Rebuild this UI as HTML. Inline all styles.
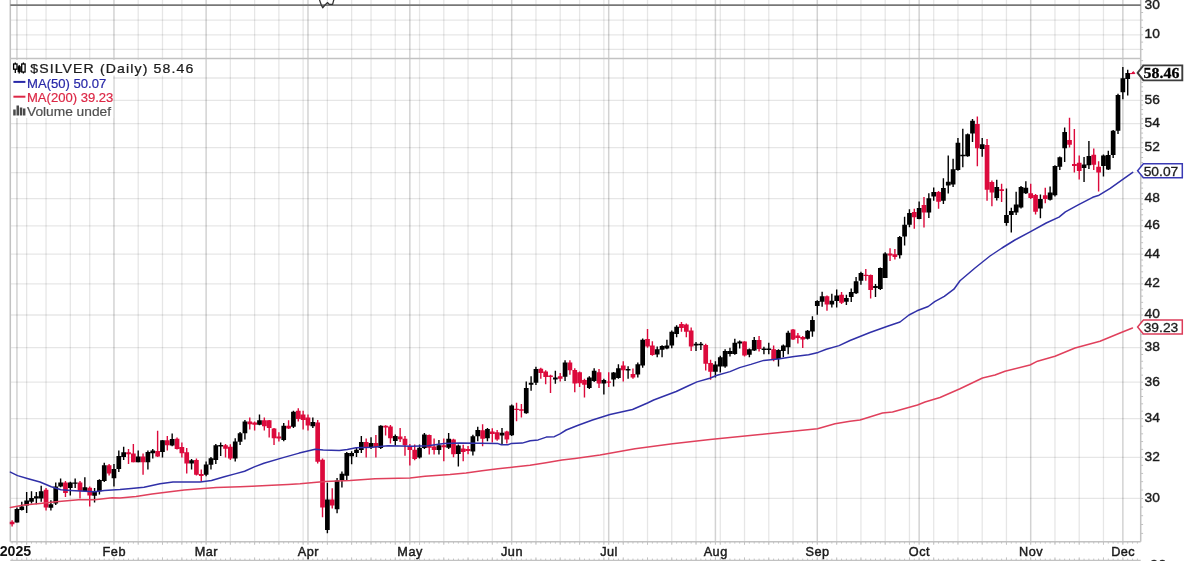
<!DOCTYPE html><html><head><meta charset="utf-8"><style>html,body{margin:0;padding:0;background:#fff;width:1200px;height:561px;overflow:hidden}</style></head><body><svg width="1200" height="561" viewBox="0 0 1200 561" style="position:absolute;left:0;top:0;filter:blur(0.5px);font-family:'Liberation Sans',sans-serif">
<rect width="1200" height="561" fill="#fff"/>
<path d="M26.65 0V541.7M46.05 0V541.7M70.31 0V541.7M89.71 0V541.7M138.21 0V541.7M162.47 0V541.7M181.87 0V541.7M230.37 0V541.7M254.62 0V541.7M278.88 0V541.7M303.13 0V541.7M327.38 0V541.7M351.64 0V541.7M371.04 0V541.7M395.29 0V541.7M419.54 0V541.7M443.79 0V541.7M468.05 0V541.7M492.30 0V541.7M535.95 0V541.7M560.21 0V541.7M579.61 0V541.7M603.86 0V541.7M623.26 0V541.7M647.52 0V541.7M671.77 0V541.7M696.02 0V541.7M720.27 0V541.7M744.53 0V541.7M768.78 0V541.7M793.03 0V541.7M836.69 0V541.7M860.94 0V541.7M885.19 0V541.7M909.44 0V541.7M933.70 0V541.7M957.95 0V541.7M982.20 0V541.7M1006.45 0V541.7M1054.96 0V541.7M1079.21 0V541.7M1103.46 0V541.7" stroke="rgba(0,0,0,0.098)" stroke-width="1.3" fill="none"/>
<path d="M16.95 0V541.7M113.96 0V541.7M206.12 0V541.7M307.98 0V541.7M409.84 0V541.7M511.70 0V541.7M608.71 0V541.7M715.42 0V541.7M817.28 0V541.7M919.14 0V541.7M1030.70 0V541.7M1122.86 0V541.7" stroke="rgba(0,0,0,0.175)" stroke-width="1.5" fill="none"/>
<path d="M10.3 498.46H1140.7M10.3 457.30H1140.7M10.3 418.63H1140.7M10.3 382.18H1140.7M10.3 347.69H1140.7M10.3 314.98H1140.7M10.3 283.86H1140.7M10.3 254.19H1140.7M10.3 225.84H1140.7M10.3 198.69H1140.7M10.3 172.66H1140.7M10.3 147.64H1140.7M10.3 123.57H1140.7M10.3 100.37H1140.7M10.3 77.99H1140.7M10.3 20.1H1140.7M10.3 34.8H1140.7M10.3 49.4H1140.7" stroke="rgba(0,0,0,0.098)" stroke-width="1.3" fill="none"/>
<path d="M10.3 0V541.7M1140.7 0V541.7M10.3 58.6H1140.7M10.3 541.7H1140.7" stroke="#c2c2c2" stroke-width="1.5" fill="none"/>
<path d="M10.3 560.6H1140.7" stroke="#c2c2c2" stroke-width="1.5" fill="none"/>
<path d="M10.3 5.1H1140.7" stroke="#777" stroke-width="1.6" fill="none"/>
<path d="M319.2 -1L321.3 5.0L322.7 7.8L324.5 5.5L327.4 2.6L329.4 4.4L332.6 4.4L334 -1" stroke="#333" stroke-width="1.3" fill="none" stroke-linejoin="round"/>
<path d="M12.10 541.7v1.9M12.10 558.6v1.9M16.95 541.7v1.9M16.95 558.6v1.9M21.80 541.7v1.9M21.80 558.6v1.9M26.65 541.7v1.9M26.65 558.6v1.9M31.50 541.7v1.9M31.50 558.6v1.9M36.35 541.7v1.9M36.35 558.6v1.9M41.20 541.7v1.9M41.20 558.6v1.9M46.05 541.7v1.9M46.05 558.6v1.9M50.90 541.7v1.9M50.90 558.6v1.9M55.75 541.7v1.9M55.75 558.6v1.9M60.61 541.7v1.9M60.61 558.6v1.9M65.46 541.7v1.9M65.46 558.6v1.9M70.31 541.7v1.9M70.31 558.6v1.9M75.16 541.7v1.9M75.16 558.6v1.9M80.01 541.7v1.9M80.01 558.6v1.9M84.86 541.7v1.9M84.86 558.6v1.9M89.71 541.7v1.9M89.71 558.6v1.9M94.56 541.7v1.9M94.56 558.6v1.9M99.41 541.7v1.9M99.41 558.6v1.9M104.26 541.7v1.9M104.26 558.6v1.9M109.11 541.7v1.9M109.11 558.6v1.9M113.96 541.7v1.9M113.96 558.6v1.9M118.81 541.7v1.9M118.81 558.6v1.9M123.66 541.7v1.9M123.66 558.6v1.9M128.51 541.7v1.9M128.51 558.6v1.9M133.36 541.7v1.9M133.36 558.6v1.9M138.21 541.7v1.9M138.21 558.6v1.9M143.06 541.7v1.9M143.06 558.6v1.9M147.91 541.7v1.9M147.91 558.6v1.9M152.76 541.7v1.9M152.76 558.6v1.9M157.62 541.7v1.9M157.62 558.6v1.9M162.47 541.7v1.9M162.47 558.6v1.9M167.32 541.7v1.9M167.32 558.6v1.9M172.17 541.7v1.9M172.17 558.6v1.9M177.02 541.7v1.9M177.02 558.6v1.9M181.87 541.7v1.9M181.87 558.6v1.9M186.72 541.7v1.9M186.72 558.6v1.9M191.57 541.7v1.9M191.57 558.6v1.9M196.42 541.7v1.9M196.42 558.6v1.9M201.27 541.7v1.9M201.27 558.6v1.9M206.12 541.7v1.9M206.12 558.6v1.9M210.97 541.7v1.9M210.97 558.6v1.9M215.82 541.7v1.9M215.82 558.6v1.9M220.67 541.7v1.9M220.67 558.6v1.9M225.52 541.7v1.9M225.52 558.6v1.9M230.37 541.7v1.9M230.37 558.6v1.9M235.22 541.7v1.9M235.22 558.6v1.9M240.07 541.7v1.9M240.07 558.6v1.9M244.92 541.7v1.9M244.92 558.6v1.9M249.77 541.7v1.9M249.77 558.6v1.9M254.62 541.7v1.9M254.62 558.6v1.9M259.48 541.7v1.9M259.48 558.6v1.9M264.33 541.7v1.9M264.33 558.6v1.9M269.18 541.7v1.9M269.18 558.6v1.9M274.03 541.7v1.9M274.03 558.6v1.9M278.88 541.7v1.9M278.88 558.6v1.9M283.73 541.7v1.9M283.73 558.6v1.9M288.58 541.7v1.9M288.58 558.6v1.9M293.43 541.7v1.9M293.43 558.6v1.9M298.28 541.7v1.9M298.28 558.6v1.9M303.13 541.7v1.9M303.13 558.6v1.9M307.98 541.7v1.9M307.98 558.6v1.9M312.83 541.7v1.9M312.83 558.6v1.9M317.68 541.7v1.9M317.68 558.6v1.9M322.53 541.7v1.9M322.53 558.6v1.9M327.38 541.7v1.9M327.38 558.6v1.9M332.23 541.7v1.9M332.23 558.6v1.9M337.08 541.7v1.9M337.08 558.6v1.9M341.93 541.7v1.9M341.93 558.6v1.9M346.78 541.7v1.9M346.78 558.6v1.9M351.64 541.7v1.9M351.64 558.6v1.9M356.49 541.7v1.9M356.49 558.6v1.9M361.34 541.7v1.9M361.34 558.6v1.9M366.19 541.7v1.9M366.19 558.6v1.9M371.04 541.7v1.9M371.04 558.6v1.9M375.89 541.7v1.9M375.89 558.6v1.9M380.74 541.7v1.9M380.74 558.6v1.9M385.59 541.7v1.9M385.59 558.6v1.9M390.44 541.7v1.9M390.44 558.6v1.9M395.29 541.7v1.9M395.29 558.6v1.9M400.14 541.7v1.9M400.14 558.6v1.9M404.99 541.7v1.9M404.99 558.6v1.9M409.84 541.7v1.9M409.84 558.6v1.9M414.69 541.7v1.9M414.69 558.6v1.9M419.54 541.7v1.9M419.54 558.6v1.9M424.39 541.7v1.9M424.39 558.6v1.9M429.24 541.7v1.9M429.24 558.6v1.9M434.09 541.7v1.9M434.09 558.6v1.9M438.94 541.7v1.9M438.94 558.6v1.9M443.79 541.7v1.9M443.79 558.6v1.9M448.65 541.7v1.9M448.65 558.6v1.9M453.50 541.7v1.9M453.50 558.6v1.9M458.35 541.7v1.9M458.35 558.6v1.9M463.20 541.7v1.9M463.20 558.6v1.9M468.05 541.7v1.9M468.05 558.6v1.9M472.90 541.7v1.9M472.90 558.6v1.9M477.75 541.7v1.9M477.75 558.6v1.9M482.60 541.7v1.9M482.60 558.6v1.9M487.45 541.7v1.9M487.45 558.6v1.9M492.30 541.7v1.9M492.30 558.6v1.9M497.15 541.7v1.9M497.15 558.6v1.9M502.00 541.7v1.9M502.00 558.6v1.9M506.85 541.7v1.9M506.85 558.6v1.9M511.70 541.7v1.9M511.70 558.6v1.9M516.55 541.7v1.9M516.55 558.6v1.9M521.40 541.7v1.9M521.40 558.6v1.9M526.25 541.7v1.9M526.25 558.6v1.9M531.10 541.7v1.9M531.10 558.6v1.9M535.95 541.7v1.9M535.95 558.6v1.9M540.80 541.7v1.9M540.80 558.6v1.9M545.66 541.7v1.9M545.66 558.6v1.9M550.51 541.7v1.9M550.51 558.6v1.9M555.36 541.7v1.9M555.36 558.6v1.9M560.21 541.7v1.9M560.21 558.6v1.9M565.06 541.7v1.9M565.06 558.6v1.9M569.91 541.7v1.9M569.91 558.6v1.9M574.76 541.7v1.9M574.76 558.6v1.9M579.61 541.7v1.9M579.61 558.6v1.9M584.46 541.7v1.9M584.46 558.6v1.9M589.31 541.7v1.9M589.31 558.6v1.9M594.16 541.7v1.9M594.16 558.6v1.9M599.01 541.7v1.9M599.01 558.6v1.9M603.86 541.7v1.9M603.86 558.6v1.9M608.71 541.7v1.9M608.71 558.6v1.9M613.56 541.7v1.9M613.56 558.6v1.9M618.41 541.7v1.9M618.41 558.6v1.9M623.26 541.7v1.9M623.26 558.6v1.9M628.11 541.7v1.9M628.11 558.6v1.9M632.96 541.7v1.9M632.96 558.6v1.9M637.81 541.7v1.9M637.81 558.6v1.9M642.67 541.7v1.9M642.67 558.6v1.9M647.52 541.7v1.9M647.52 558.6v1.9M652.37 541.7v1.9M652.37 558.6v1.9M657.22 541.7v1.9M657.22 558.6v1.9M662.07 541.7v1.9M662.07 558.6v1.9M666.92 541.7v1.9M666.92 558.6v1.9M671.77 541.7v1.9M671.77 558.6v1.9M676.62 541.7v1.9M676.62 558.6v1.9M681.47 541.7v1.9M681.47 558.6v1.9M686.32 541.7v1.9M686.32 558.6v1.9M691.17 541.7v1.9M691.17 558.6v1.9M696.02 541.7v1.9M696.02 558.6v1.9M700.87 541.7v1.9M700.87 558.6v1.9M705.72 541.7v1.9M705.72 558.6v1.9M710.57 541.7v1.9M710.57 558.6v1.9M715.42 541.7v1.9M715.42 558.6v1.9M720.27 541.7v1.9M720.27 558.6v1.9M725.12 541.7v1.9M725.12 558.6v1.9M729.97 541.7v1.9M729.97 558.6v1.9M734.82 541.7v1.9M734.82 558.6v1.9M739.68 541.7v1.9M739.68 558.6v1.9M744.53 541.7v1.9M744.53 558.6v1.9M749.38 541.7v1.9M749.38 558.6v1.9M754.23 541.7v1.9M754.23 558.6v1.9M759.08 541.7v1.9M759.08 558.6v1.9M763.93 541.7v1.9M763.93 558.6v1.9M768.78 541.7v1.9M768.78 558.6v1.9M773.63 541.7v1.9M773.63 558.6v1.9M778.48 541.7v1.9M778.48 558.6v1.9M783.33 541.7v1.9M783.33 558.6v1.9M788.18 541.7v1.9M788.18 558.6v1.9M793.03 541.7v1.9M793.03 558.6v1.9M797.88 541.7v1.9M797.88 558.6v1.9M802.73 541.7v1.9M802.73 558.6v1.9M807.58 541.7v1.9M807.58 558.6v1.9M812.43 541.7v1.9M812.43 558.6v1.9M817.28 541.7v1.9M817.28 558.6v1.9M822.13 541.7v1.9M822.13 558.6v1.9M826.98 541.7v1.9M826.98 558.6v1.9M831.83 541.7v1.9M831.83 558.6v1.9M836.69 541.7v1.9M836.69 558.6v1.9M841.54 541.7v1.9M841.54 558.6v1.9M846.39 541.7v1.9M846.39 558.6v1.9M851.24 541.7v1.9M851.24 558.6v1.9M856.09 541.7v1.9M856.09 558.6v1.9M860.94 541.7v1.9M860.94 558.6v1.9M865.79 541.7v1.9M865.79 558.6v1.9M870.64 541.7v1.9M870.64 558.6v1.9M875.49 541.7v1.9M875.49 558.6v1.9M880.34 541.7v1.9M880.34 558.6v1.9M885.19 541.7v1.9M885.19 558.6v1.9M890.04 541.7v1.9M890.04 558.6v1.9M894.89 541.7v1.9M894.89 558.6v1.9M899.74 541.7v1.9M899.74 558.6v1.9M904.59 541.7v1.9M904.59 558.6v1.9M909.44 541.7v1.9M909.44 558.6v1.9M914.29 541.7v1.9M914.29 558.6v1.9M919.14 541.7v1.9M919.14 558.6v1.9M923.99 541.7v1.9M923.99 558.6v1.9M928.84 541.7v1.9M928.84 558.6v1.9M933.70 541.7v1.9M933.70 558.6v1.9M938.55 541.7v1.9M938.55 558.6v1.9M943.40 541.7v1.9M943.40 558.6v1.9M948.25 541.7v1.9M948.25 558.6v1.9M953.10 541.7v1.9M953.10 558.6v1.9M957.95 541.7v1.9M957.95 558.6v1.9M962.80 541.7v1.9M962.80 558.6v1.9M967.65 541.7v1.9M967.65 558.6v1.9M972.50 541.7v1.9M972.50 558.6v1.9M977.35 541.7v1.9M977.35 558.6v1.9M982.20 541.7v1.9M982.20 558.6v1.9M987.05 541.7v1.9M987.05 558.6v1.9M991.90 541.7v1.9M991.90 558.6v1.9M996.75 541.7v1.9M996.75 558.6v1.9M1001.60 541.7v1.9M1001.60 558.6v1.9M1006.45 541.7v1.9M1006.45 558.6v1.9M1011.30 541.7v1.9M1011.30 558.6v1.9M1016.15 541.7v1.9M1016.15 558.6v1.9M1021.00 541.7v1.9M1021.00 558.6v1.9M1025.85 541.7v1.9M1025.85 558.6v1.9M1030.70 541.7v1.9M1030.70 558.6v1.9M1035.56 541.7v1.9M1035.56 558.6v1.9M1040.41 541.7v1.9M1040.41 558.6v1.9M1045.26 541.7v1.9M1045.26 558.6v1.9M1050.11 541.7v1.9M1050.11 558.6v1.9M1054.96 541.7v1.9M1054.96 558.6v1.9M1059.81 541.7v1.9M1059.81 558.6v1.9M1064.66 541.7v1.9M1064.66 558.6v1.9M1069.51 541.7v1.9M1069.51 558.6v1.9M1074.36 541.7v1.9M1074.36 558.6v1.9M1079.21 541.7v1.9M1079.21 558.6v1.9M1084.06 541.7v1.9M1084.06 558.6v1.9M1088.91 541.7v1.9M1088.91 558.6v1.9M1093.76 541.7v1.9M1093.76 558.6v1.9M1098.61 541.7v1.9M1098.61 558.6v1.9M1103.46 541.7v1.9M1103.46 558.6v1.9M1108.31 541.7v1.9M1108.31 558.6v1.9M1113.16 541.7v1.9M1113.16 558.6v1.9M1118.01 541.7v1.9M1118.01 558.6v1.9M1122.86 541.7v1.9M1122.86 558.6v1.9M1127.71 541.7v1.9M1127.71 558.6v1.9M1132.57 541.7v1.9M1132.57 558.6v1.9M1137.42 541.7v1.9M1137.42 558.6v1.9M26.65 541.7v3.1M26.65 557.4v3.1M46.05 541.7v3.1M46.05 557.4v3.1M70.31 541.7v3.1M70.31 557.4v3.1M89.71 541.7v3.1M89.71 557.4v3.1M138.21 541.7v3.1M138.21 557.4v3.1M162.47 541.7v3.1M162.47 557.4v3.1M181.87 541.7v3.1M181.87 557.4v3.1M230.37 541.7v3.1M230.37 557.4v3.1M254.62 541.7v3.1M254.62 557.4v3.1M278.88 541.7v3.1M278.88 557.4v3.1M303.13 541.7v3.1M303.13 557.4v3.1M327.38 541.7v3.1M327.38 557.4v3.1M351.64 541.7v3.1M351.64 557.4v3.1M371.04 541.7v3.1M371.04 557.4v3.1M395.29 541.7v3.1M395.29 557.4v3.1M419.54 541.7v3.1M419.54 557.4v3.1M443.79 541.7v3.1M443.79 557.4v3.1M468.05 541.7v3.1M468.05 557.4v3.1M492.30 541.7v3.1M492.30 557.4v3.1M535.95 541.7v3.1M535.95 557.4v3.1M560.21 541.7v3.1M560.21 557.4v3.1M579.61 541.7v3.1M579.61 557.4v3.1M603.86 541.7v3.1M603.86 557.4v3.1M623.26 541.7v3.1M623.26 557.4v3.1M647.52 541.7v3.1M647.52 557.4v3.1M671.77 541.7v3.1M671.77 557.4v3.1M696.02 541.7v3.1M696.02 557.4v3.1M720.27 541.7v3.1M720.27 557.4v3.1M744.53 541.7v3.1M744.53 557.4v3.1M768.78 541.7v3.1M768.78 557.4v3.1M793.03 541.7v3.1M793.03 557.4v3.1M836.69 541.7v3.1M836.69 557.4v3.1M860.94 541.7v3.1M860.94 557.4v3.1M885.19 541.7v3.1M885.19 557.4v3.1M909.44 541.7v3.1M909.44 557.4v3.1M933.70 541.7v3.1M933.70 557.4v3.1M957.95 541.7v3.1M957.95 557.4v3.1M982.20 541.7v3.1M982.20 557.4v3.1M1006.45 541.7v3.1M1006.45 557.4v3.1M1054.96 541.7v3.1M1054.96 557.4v3.1M1079.21 541.7v3.1M1079.21 557.4v3.1M1103.46 541.7v3.1M1103.46 557.4v3.1M16.95 541.7v3.1M16.95 557.4v3.1M113.96 541.7v3.1M113.96 557.4v3.1M206.12 541.7v3.1M206.12 557.4v3.1M307.98 541.7v3.1M307.98 557.4v3.1M409.84 541.7v3.1M409.84 557.4v3.1M511.70 541.7v3.1M511.70 557.4v3.1M608.71 541.7v3.1M608.71 557.4v3.1M715.42 541.7v3.1M715.42 557.4v3.1M817.28 541.7v3.1M817.28 557.4v3.1M919.14 541.7v3.1M919.14 557.4v3.1M1030.70 541.7v3.1M1030.70 557.4v3.1M1122.86 541.7v3.1M1122.86 557.4v3.1" stroke="#c2c2c2" stroke-width="1" fill="none"/>
<path d="M1140.7 533.42h2.4M1140.7 524.50h2.4M1140.7 515.70h2.4M1140.7 507.02h2.4M1140.7 498.46h2.4M1140.7 490.01h2.4M1140.7 481.67h2.4M1140.7 473.45h2.4M1140.7 465.32h2.4M1140.7 457.30h2.4M1140.7 449.37h2.4M1140.7 441.55h2.4M1140.7 433.82h2.4M1140.7 426.18h2.4M1140.7 418.63h2.4M1140.7 411.17h2.4M1140.7 403.80h2.4M1140.7 396.51h2.4M1140.7 389.30h2.4M1140.7 382.18h2.4M1140.7 375.13h2.4M1140.7 368.16h2.4M1140.7 361.26h2.4M1140.7 354.44h2.4M1140.7 347.69h2.4M1140.7 341.01h2.4M1140.7 334.40h2.4M1140.7 327.86h2.4M1140.7 321.39h2.4M1140.7 314.98h2.4M1140.7 308.63h2.4M1140.7 302.35h2.4M1140.7 296.12h2.4M1140.7 289.96h2.4M1140.7 283.86h2.4M1140.7 277.81h2.4M1140.7 271.82h2.4M1140.7 265.89h2.4M1140.7 260.01h2.4M1140.7 254.19h2.4M1140.7 248.42h2.4M1140.7 242.70h2.4M1140.7 237.03h2.4M1140.7 231.41h2.4M1140.7 225.84h2.4M1140.7 220.31h2.4M1140.7 214.84h2.4M1140.7 209.41h2.4M1140.7 204.03h2.4M1140.7 198.69h2.4M1140.7 193.40h2.4M1140.7 188.15h2.4M1140.7 182.94h2.4M1140.7 177.78h2.4M1140.7 172.66h2.4M1140.7 167.57h2.4M1140.7 162.53h2.4M1140.7 157.53h2.4M1140.7 152.57h2.4M1140.7 147.64h2.4M1140.7 142.75h2.4M1140.7 137.90h2.4M1140.7 133.09h2.4M1140.7 128.31h2.4M1140.7 123.57h2.4M1140.7 118.86h2.4M1140.7 114.19h2.4M1140.7 109.55h2.4M1140.7 104.95h2.4M1140.7 100.37h2.4M1140.7 95.83h2.4M1140.7 91.33h2.4M1140.7 86.85h2.4M1140.7 82.41h2.4M1140.7 77.99h2.4M1140.7 73.61h2.4M1140.7 69.26h2.4M1140.7 64.93h2.4M1140.7 60.64h2.4M1140.7 12.5h2.4M1140.7 20.1h2.4M1140.7 27.4h2.4M1140.7 34.8h2.4M1140.7 42.1h2.4M1140.7 49.4h2.4" stroke="#c2c2c2" stroke-width="1" fill="none"/>
<rect x="11.2" y="60" width="184" height="15.5" fill="#fff"/>
<rect x="11.2" y="75" width="102" height="43" fill="#fff"/>
<path d="M12.10 520.2V526.6M46.05 488.1V510.6M65.46 480.9V497.0M80.01 480.9V498.6M89.71 486.5V506.6M109.11 464.1V475.6M128.51 449.0V463.9M133.36 443.9V462.3M143.06 453.5V474.7M157.62 430.7V457.0M167.32 435.9V450.6M177.02 437.5V449.5M181.87 442.6V457.5M186.72 447.9V473.6M196.42 458.6V475.6M201.27 469.5V481.6M225.52 443.9V457.5M230.37 444.2V459.9M249.77 417.5V429.5M254.62 421.5V430.6M264.33 417.5V430.6M269.18 419.9V437.5M274.03 427.9V445.1M278.88 432.2V441.5M288.58 420.3V429.0M298.28 408.2V421.5M303.13 410.7V429.5M307.98 414.6V430.6M317.68 419.9V463.5M322.53 458.6V517.2M332.23 488.3V508.4M366.19 438.5V457.4M375.89 435.0V457.4M385.59 425.3V435.6M390.44 424.9V443.6M400.14 428.1V442.0M404.99 436.1V455.8M409.84 444.1V465.5M414.69 444.6V460.2M429.24 434.5V454.5M434.09 438.5V454.5M443.79 438.5V461.3M453.50 438.7V457.2M463.20 444.7V461.2M468.05 446.0V454.3M482.60 424.3V446.3M492.30 428.3V442.4M497.15 429.9V440.8M506.85 430.7V443.6M516.55 402.8V421.2M521.40 404.0V417.5M540.80 367.8V378.7M545.66 370.3V384.3M550.51 374.7V393.1M560.21 373.1V381.6M569.91 360.2V374.7M574.76 368.3V392.3M579.61 371.5V387.0M584.46 378.7V397.6M599.01 369.1V388.0M608.71 372.3V387.0M623.26 361.3V381.4M632.96 368.6V378.7M647.52 328.9V347.7M652.37 341.3V355.7M681.47 322.0V331.7M686.32 323.6V337.3M691.17 327.6V350.9M705.72 343.7V370.6M710.57 359.7V379.8M744.53 341.2V356.4M759.08 336.0V351.6M773.63 345.6V361.2M793.03 329.1V339.9M797.88 333.1V343.6M802.73 336.0V347.9M826.98 295.4V310.7M841.54 292.1V303.9M865.79 269.1V280.8M870.64 274.4V298.5M890.04 248.3V261.1M894.89 249.1V259.5M914.29 208.7V228.8M923.99 197.0V227.5M938.55 191.1V208.7M977.35 116.6V166.3M987.05 139.0V200.8M991.90 180.5V206.2M1001.60 183.7V202.1M1030.70 183.7V198.9M1035.56 194.1V214.5M1045.26 187.7V203.3M1069.51 117.8V147.5M1074.36 129.1V172.4M1079.21 155.5V179.6M1093.76 148.6V170.0M1098.61 161.2V191.6" stroke="#dc0a3c" stroke-width="1.4" fill="none"/>
<path d="M9.75 521.8h4.7V524.2h-4.7zM43.70 489.7h4.7V507.4h-4.7zM63.11 482.5h4.7V492.9h-4.7zM77.66 482.5h4.7V491.0h-4.7zM87.36 487.8h4.7V495.4h-4.7zM106.76 465.3h4.7V473.4h-4.7zM126.16 452.2h4.7V454.3h-4.7zM131.01 453.5h4.7V462.3h-4.7zM140.71 456.4h4.7V462.3h-4.7zM155.27 451.1h4.7V456.4h-4.7zM164.97 440.3h4.7V445.2h-4.7zM174.67 438.7h4.7V449.0h-4.7zM179.52 447.1h4.7V453.2h-4.7zM184.37 452.2h4.7V463.6h-4.7zM194.07 459.9h4.7V474.7h-4.7zM198.92 474.0h4.7V476.0h-4.7zM223.17 445.2h4.7V448.7h-4.7zM228.02 446.8h4.7V458.6h-4.7zM247.42 421.5h4.7V424.2h-4.7zM252.28 422.6h4.7V424.7h-4.7zM261.98 420.3h4.7V426.3h-4.7zM266.83 420.3h4.7V427.9h-4.7zM271.68 428.4h4.7V438.3h-4.7zM276.53 436.4h4.7V438.6h-4.7zM286.23 425.8h4.7V428.4h-4.7zM295.93 410.7h4.7V419.1h-4.7zM300.78 414.6h4.7V419.9h-4.7zM305.63 417.5h4.7V425.5h-4.7zM315.33 422.6h4.7V461.7h-4.7zM320.18 459.8h4.7V507.6h-4.7zM329.88 499.5h4.7V505.6h-4.7zM363.84 442.0h4.7V447.8h-4.7zM373.54 443.0h4.7V447.3h-4.7zM383.24 425.7h4.7V427.6h-4.7zM388.09 426.5h4.7V438.2h-4.7zM397.79 436.6h4.7V439.3h-4.7zM402.64 438.8h4.7V445.2h-4.7zM407.49 446.5h4.7V450.1h-4.7zM412.34 449.7h4.7V459.0h-4.7zM426.89 435.0h4.7V447.8h-4.7zM431.74 446.5h4.7V450.1h-4.7zM441.44 445.2h4.7V447.3h-4.7zM451.15 439.5h4.7V454.3h-4.7zM460.85 448.4h4.7V452.1h-4.7zM465.70 448.9h4.7V451.1h-4.7zM480.25 430.2h4.7V438.7h-4.7zM489.95 431.5h4.7V433.9h-4.7zM494.80 432.3h4.7V439.5h-4.7zM504.50 431.5h4.7V439.5h-4.7zM514.20 408.7h4.7V410.1h-4.7zM519.05 409.2h4.7V410.8h-4.7zM538.45 368.7h4.7V373.1h-4.7zM543.31 371.5h4.7V377.1h-4.7zM548.16 375.5h4.7V377.1h-4.7zM557.86 376.3h4.7V378.7h-4.7zM567.56 362.6h4.7V370.3h-4.7zM572.41 369.9h4.7V383.5h-4.7zM577.26 372.3h4.7V383.2h-4.7zM582.11 380.0h4.7V384.8h-4.7zM596.66 372.3h4.7V383.5h-4.7zM606.36 381.4h4.7V382.8h-4.7zM620.91 365.4h4.7V370.2h-4.7zM630.61 373.9h4.7V377.4h-4.7zM645.17 338.9h4.7V346.6h-4.7zM650.02 345.6h4.7V354.9h-4.7zM679.12 324.1h4.7V328.0h-4.7zM683.97 324.4h4.7V331.7h-4.7zM688.82 330.5h4.7V346.6h-4.7zM703.37 345.0h4.7V363.7h-4.7zM708.22 362.9h4.7V371.8h-4.7zM742.18 341.5h4.7V355.6h-4.7zM756.73 339.9h4.7V348.9h-4.7zM771.28 349.2h4.7V359.1h-4.7zM790.68 329.6h4.7V339.5h-4.7zM795.53 335.5h4.7V337.9h-4.7zM800.38 337.1h4.7V339.5h-4.7zM824.63 296.2h4.7V304.6h-4.7zM839.19 294.8h4.7V302.8h-4.7zM863.44 274.7h4.7V276.1h-4.7zM868.29 275.1h4.7V290.0h-4.7zM887.69 253.6h4.7V255.5h-4.7zM892.54 254.2h4.7V257.1h-4.7zM911.94 212.0h4.7V217.2h-4.7zM921.64 205.1h4.7V212.4h-4.7zM936.20 191.9h4.7V201.8h-4.7zM975.00 123.9h4.7V148.3h-4.7zM984.70 145.1h4.7V189.7h-4.7zM989.55 182.1h4.7V192.5h-4.7zM999.25 189.3h4.7V190.9h-4.7zM1028.36 193.3h4.7V198.1h-4.7zM1033.21 194.9h4.7V211.8h-4.7zM1042.91 195.2h4.7V198.9h-4.7zM1067.16 140.0h4.7V144.8h-4.7zM1072.01 164.0h4.7V166.0h-4.7zM1076.86 162.8h4.7V171.1h-4.7zM1091.41 154.7h4.7V164.7h-4.7zM1096.26 166.8h4.7V172.4h-4.7z" fill="#dc0a3c"/>
<path d="M16.95 507.4V522.6M21.80 501.8V510.6M26.65 492.1V513.0M31.50 491.3V503.4M36.35 492.1V504.2M41.20 485.7V501.8M50.90 500.2V510.6M55.75 482.5V505.0M60.61 478.5V487.3M70.31 481.7V495.4M75.16 478.5V488.1M84.86 477.2V491.3M94.56 488.1V502.6M99.41 479.3V494.5M104.26 462.8V482.0M113.96 464.1V486.5M118.81 450.4V472.1M123.66 446.8V459.9M138.21 450.6V462.3M147.91 450.6V469.5M152.76 449.0V458.6M162.47 439.9V457.5M172.17 433.5V446.3M191.57 459.1V469.5M206.12 461.5V476.3M210.97 457.0V469.5M215.82 443.9V463.9M220.67 442.6V455.9M235.22 438.3V461.6M240.07 431.9V445.1M244.92 419.9V439.6M259.48 414.6V425.2M283.73 423.1V441.2M293.43 410.7V427.9M312.83 417.5V427.9M327.38 482.7V533.2M337.08 477.9V513.2M341.93 471.4V487.4M346.78 452.1V480.2M351.64 451.3V464.2M356.49 448.1V457.0M361.34 436.1V452.9M371.04 437.2V448.9M380.74 425.3V448.9M395.29 434.5V445.7M419.54 444.6V458.6M424.39 432.9V448.9M438.94 440.1V454.5M448.65 432.9V448.9M458.35 444.4V466.5M472.90 434.7V455.6M477.75 426.7V441.2M487.45 428.0V441.2M502.00 428.0V444.0M511.70 404.4V436.1M526.25 381.6V413.7M531.10 376.3V390.7M535.95 366.7V385.1M555.36 370.7V383.8M565.06 360.2V381.1M589.31 376.3V389.1M594.16 368.3V381.9M603.86 378.7V394.4M613.56 372.0V386.4M618.41 364.3V378.7M628.11 366.2V378.7M637.81 362.6V377.4M642.67 338.6V367.8M657.22 346.6V357.3M662.07 345.3V357.3M666.92 339.7V349.3M671.77 330.5V348.2M676.62 325.2V337.3M696.02 342.1V350.9M700.87 342.1V350.1M715.42 361.3V377.4M720.27 355.7V372.6M725.12 349.3V367.8M729.97 347.7V356.5M734.82 338.7V354.8M739.68 340.4V348.4M749.38 348.4V357.2M754.23 337.1V351.1M763.93 346.8V354.3M768.78 342.8V354.3M778.48 349.2V366.5M783.33 344.4V357.2M788.18 330.7V354.3M807.58 329.9V339.5M812.43 316.3V336.7M817.28 300.2V314.7M822.13 291.7V306.7M831.83 293.8V307.5M836.69 289.5V307.5M846.39 294.8V304.9M851.24 288.4V302.0M856.09 277.1V294.0M860.94 271.8V284.7M875.49 284.0V296.9M880.34 267.5V290.0M885.19 252.3V277.9M899.74 235.9V258.4M904.59 216.8V245.6M909.44 209.2V227.2M919.14 201.5V219.2M928.84 193.2V217.9M933.70 187.4V200.7M943.40 178.3V203.9M948.25 155.5V193.6M953.10 158.7V187.1M957.95 137.9V170.8M962.80 128.7V167.2M967.65 133.6V156.7M972.50 119.1V141.9M982.20 137.9V156.7M996.75 179.7V200.5M1006.45 188.5V225.7M1011.30 207.8V232.6M1016.15 191.7V215.0M1021.00 186.1V208.6M1025.85 181.3V194.1M1040.41 194.6V218.2M1050.11 186.6V200.5M1054.96 165.2V196.5M1059.81 156.4V170.1M1064.66 127.5V162.0M1084.06 157.1V182.0M1088.91 141.1V168.9M1103.46 154.4V176.4M1108.31 150.7V170.0M1113.16 129.9V157.9M1118.01 93.8V133.9M1122.86 67.1V99.2M1127.71 69.8V95.4" stroke="#000" stroke-width="1.4" fill="none"/>
<path d="M14.60 509.0h4.7V522.6h-4.7zM19.45 506.6h4.7V510.1h-4.7zM24.30 500.6h4.7V505.5h-4.7zM29.15 498.1h4.7V501.8h-4.7zM34.00 496.2h4.7V498.6h-4.7zM38.85 491.3h4.7V498.6h-4.7zM48.55 504.2h4.7V507.7h-4.7zM53.40 486.5h4.7V503.4h-4.7zM58.26 482.5h4.7V486.5h-4.7zM67.96 482.5h4.7V488.1h-4.7zM72.81 482.4h4.7V483.8h-4.7zM82.51 487.3h4.7V491.0h-4.7zM92.21 491.3h4.7V495.8h-4.7zM97.06 480.1h4.7V491.3h-4.7zM101.91 465.3h4.7V480.9h-4.7zM111.61 468.9h4.7V478.2h-4.7zM116.46 456.0h4.7V468.9h-4.7zM121.31 452.2h4.7V457.0h-4.7zM135.86 456.4h4.7V462.3h-4.7zM145.56 451.9h4.7V462.3h-4.7zM150.41 450.6h4.7V453.2h-4.7zM160.12 440.3h4.7V451.9h-4.7zM169.82 439.1h4.7V445.5h-4.7zM189.22 460.2h4.7V463.6h-4.7zM203.77 464.4h4.7V474.7h-4.7zM208.62 458.3h4.7V464.7h-4.7zM213.47 445.2h4.7V459.9h-4.7zM218.32 445.0h4.7V446.4h-4.7zM232.87 441.5h4.7V458.4h-4.7zM237.72 433.2h4.7V441.8h-4.7zM242.57 421.5h4.7V433.2h-4.7zM257.13 420.3h4.7V424.7h-4.7zM281.38 425.8h4.7V439.9h-4.7zM291.08 411.8h4.7V426.8h-4.7zM310.48 422.0h4.7V426.3h-4.7zM325.03 499.5h4.7V530.0h-4.7zM334.73 480.6h4.7V509.2h-4.7zM339.58 473.8h4.7V480.2h-4.7zM344.43 452.9h4.7V475.7h-4.7zM349.29 452.9h4.7V456.2h-4.7zM354.14 449.7h4.7V452.9h-4.7zM358.99 442.0h4.7V450.1h-4.7zM368.69 443.0h4.7V447.8h-4.7zM378.39 425.7h4.7V448.1h-4.7zM392.94 436.1h4.7V440.9h-4.7zM417.19 447.8h4.7V457.4h-4.7zM422.04 434.5h4.7V448.1h-4.7zM436.59 445.2h4.7V450.1h-4.7zM446.30 438.8h4.7V447.8h-4.7zM456.00 445.6h4.7V454.0h-4.7zM470.55 436.3h4.7V451.6h-4.7zM475.40 429.9h4.7V436.3h-4.7zM485.10 429.1h4.7V438.3h-4.7zM499.65 432.8h4.7V435.5h-4.7zM509.35 405.6h4.7V435.3h-4.7zM523.90 388.0h4.7V413.2h-4.7zM528.75 382.7h4.7V384.8h-4.7zM533.60 369.1h4.7V382.7h-4.7zM553.01 377.4h4.7V379.5h-4.7zM562.71 362.6h4.7V376.8h-4.7zM586.96 377.4h4.7V388.0h-4.7zM591.81 370.7h4.7V381.1h-4.7zM601.51 380.0h4.7V383.5h-4.7zM611.21 372.6h4.7V379.5h-4.7zM616.06 368.3h4.7V377.9h-4.7zM625.76 369.0h4.7V370.6h-4.7zM635.46 364.2h4.7V374.5h-4.7zM640.32 339.7h4.7V365.4h-4.7zM654.87 349.3h4.7V354.6h-4.7zM659.72 346.1h4.7V349.8h-4.7zM664.57 345.6h4.7V348.5h-4.7zM669.42 331.7h4.7V345.6h-4.7zM674.27 326.8h4.7V334.1h-4.7zM693.67 343.7h4.7V345.6h-4.7zM698.52 343.7h4.7V345.3h-4.7zM713.07 364.5h4.7V371.8h-4.7zM717.92 357.3h4.7V366.5h-4.7zM722.77 350.9h4.7V366.5h-4.7zM727.62 350.9h4.7V354.1h-4.7zM732.47 342.8h4.7V354.0h-4.7zM737.33 341.5h4.7V343.6h-4.7zM747.03 349.2h4.7V354.8h-4.7zM751.88 339.9h4.7V350.5h-4.7zM761.58 348.4h4.7V350.0h-4.7zM766.43 348.4h4.7V350.0h-4.7zM776.13 350.0h4.7V359.1h-4.7zM780.98 345.6h4.7V351.1h-4.7zM785.83 332.8h4.7V347.2h-4.7zM805.23 330.7h4.7V338.7h-4.7zM810.08 320.0h4.7V331.5h-4.7zM814.93 301.0h4.7V305.9h-4.7zM819.78 296.2h4.7V301.8h-4.7zM829.48 300.7h4.7V304.6h-4.7zM834.34 295.4h4.7V301.0h-4.7zM844.04 298.0h4.7V301.7h-4.7zM848.89 292.1h4.7V296.9h-4.7zM853.74 281.2h4.7V293.2h-4.7zM858.59 273.1h4.7V280.8h-4.7zM873.14 286.0h4.7V287.9h-4.7zM877.99 268.0h4.7V288.9h-4.7zM882.84 253.6h4.7V277.9h-4.7zM897.39 237.0h4.7V255.2h-4.7zM902.24 224.8h4.7V236.5h-4.7zM907.09 213.1h4.7V224.8h-4.7zM916.79 207.9h4.7V218.9h-4.7zM926.49 198.3h4.7V212.4h-4.7zM931.35 191.9h4.7V196.4h-4.7zM941.05 187.9h4.7V200.7h-4.7zM945.90 181.7h4.7V185.5h-4.7zM950.75 169.2h4.7V184.4h-4.7zM955.60 142.7h4.7V170.0h-4.7zM960.45 154.7h4.7V156.3h-4.7zM965.30 134.2h4.7V156.3h-4.7zM970.15 120.7h4.7V133.6h-4.7zM979.85 144.3h4.7V149.1h-4.7zM994.40 186.9h4.7V198.1h-4.7zM1004.10 215.0h4.7V223.0h-4.7zM1008.95 211.0h4.7V215.0h-4.7zM1013.80 204.5h4.7V212.6h-4.7zM1018.65 186.9h4.7V207.4h-4.7zM1023.50 187.7h4.7V193.3h-4.7zM1038.06 198.9h4.7V208.6h-4.7zM1047.76 192.5h4.7V199.7h-4.7zM1052.61 166.0h4.7V195.2h-4.7zM1057.46 157.2h4.7V166.8h-4.7zM1062.31 132.0h4.7V148.3h-4.7zM1081.71 164.4h4.7V167.9h-4.7zM1086.56 156.0h4.7V165.2h-4.7zM1101.11 155.5h4.7V166.0h-4.7zM1105.96 155.1h4.7V169.5h-4.7zM1110.81 130.7h4.7V155.1h-4.7zM1115.66 94.9h4.7V130.7h-4.7zM1120.51 78.3h4.7V92.2h-4.7zM1125.37 73.0h4.7V78.9h-4.7z" fill="#000"/>
<polyline points="10.4,507.4 24.0,505.0 40.0,503.4 56.0,501.8 78.6,499.7 94.6,499.7 112.3,497.8 120.0,498.1 136.0,496.5 152.0,494.1 168.0,492.0 184.2,490.1 200.2,488.8 216.3,487.5 240.0,486.8 272.0,485.2 288.0,484.4 300.0,483.7 325.0,481.6 350.0,480.5 375.0,478.8 410.0,478.0 425.0,476.2 450.0,474.5 466.0,472.9 482.0,470.8 498.0,468.7 514.0,467.1 530.0,465.2 546.0,462.8 562.0,460.1 575.0,458.5 600.0,455.0 635.0,448.8 672.5,443.8 710.0,439.5 735.0,437.0 760.0,434.5 785.0,432.0 817.5,428.8 835.0,423.8 850.0,421.2 860.0,420.0 882.5,413.0 892.5,412.0 917.5,405.0 925.0,402.0 940.0,397.5 960.0,388.8 982.5,378.0 995.0,375.0 1005.0,371.2 1030.0,365.0 1037.5,361.2 1055.0,356.2 1075.0,348.0 1100.0,341.2 1120.0,333.0 1132.5,328.0" fill="none" stroke="#e0405c" stroke-width="1.5" stroke-linejoin="round" stroke-linecap="round"/>
<polyline points="10.4,472.1 17.6,475.6 27.3,478.5 40.0,482.0 51.3,486.8 61.0,489.8 70.6,490.4 80.2,491.0 94.6,491.7 104.3,490.4 120.0,489.6 131.2,488.5 144.0,487.2 160.0,483.7 173.0,482.0 200.2,482.0 211.5,480.5 224.3,476.8 235.0,473.9 244.6,471.2 254.3,466.9 263.9,463.2 283.1,457.6 299.2,453.1 315.2,449.2 323.2,449.9 339.3,450.4 347.3,449.5 356.0,447.8 372.0,447.3 388.0,445.7 412.0,446.2 428.0,445.7 444.0,443.6 460.0,443.0 498.1,443.6 501.3,444.7 507.8,444.7 511.0,443.6 522.2,443.1 530.2,440.8 538.2,439.9 546.3,437.1 554.3,436.7 560.0,433.8 566.2,430.0 577.5,425.5 592.5,420.0 610.0,414.5 632.5,409.5 647.5,403.0 653.7,400.0 664.9,395.8 676.2,391.5 687.4,386.2 697.0,381.9 709.8,378.2 716.3,375.5 730.0,371.6 739.6,367.6 750.9,364.4 763.7,360.4 778.1,359.1 794.2,356.4 808.6,354.8 818.2,352.4 826.3,349.2 839.1,345.6 850.0,340.5 870.0,332.5 887.5,326.2 900.0,322.0 909.0,315.0 917.0,310.8 928.2,306.5 934.7,301.7 944.3,296.4 953.9,289.2 960.0,280.8 975.0,268.0 990.0,256.0 1002.0,248.0 1014.9,240.0 1030.1,231.8 1046.2,223.0 1059.0,217.1 1065.4,211.8 1078.2,204.9 1092.7,197.3 1099.1,195.2 1110.2,188.4 1121.4,180.4 1132.7,172.4" fill="none" stroke="#3030a8" stroke-width="1.5" stroke-linejoin="round" stroke-linecap="round"/>
<path d="M1129.5 73.6H1134.6M1131.6 73.4L1133.3 71.6L1134.8 73.4z" stroke="#dc0a3c" stroke-width="1" fill="#dc0a3c"/>
<text x="1144.6" y="501.9" font-size="13" fill="#1c1c1c" stroke="#1c1c1c" stroke-width="0.4" textLength="15.3" lengthAdjust="spacingAndGlyphs">30</text>
<text x="1144.6" y="460.7" font-size="13" fill="#1c1c1c" stroke="#1c1c1c" stroke-width="0.4" textLength="15.3" lengthAdjust="spacingAndGlyphs">32</text>
<text x="1144.6" y="422.0" font-size="13" fill="#1c1c1c" stroke="#1c1c1c" stroke-width="0.4" textLength="15.3" lengthAdjust="spacingAndGlyphs">34</text>
<text x="1144.6" y="385.6" font-size="13" fill="#1c1c1c" stroke="#1c1c1c" stroke-width="0.4" textLength="15.3" lengthAdjust="spacingAndGlyphs">36</text>
<text x="1144.6" y="351.1" font-size="13" fill="#1c1c1c" stroke="#1c1c1c" stroke-width="0.4" textLength="15.3" lengthAdjust="spacingAndGlyphs">38</text>
<text x="1144.6" y="318.4" font-size="13" fill="#1c1c1c" stroke="#1c1c1c" stroke-width="0.4" textLength="15.3" lengthAdjust="spacingAndGlyphs">40</text>
<text x="1144.6" y="287.3" font-size="13" fill="#1c1c1c" stroke="#1c1c1c" stroke-width="0.4" textLength="15.3" lengthAdjust="spacingAndGlyphs">42</text>
<text x="1144.6" y="257.6" font-size="13" fill="#1c1c1c" stroke="#1c1c1c" stroke-width="0.4" textLength="15.3" lengthAdjust="spacingAndGlyphs">44</text>
<text x="1144.6" y="229.2" font-size="13" fill="#1c1c1c" stroke="#1c1c1c" stroke-width="0.4" textLength="15.3" lengthAdjust="spacingAndGlyphs">46</text>
<text x="1144.6" y="202.1" font-size="13" fill="#1c1c1c" stroke="#1c1c1c" stroke-width="0.4" textLength="15.3" lengthAdjust="spacingAndGlyphs">48</text>
<text x="1144.6" y="151.0" font-size="13" fill="#1c1c1c" stroke="#1c1c1c" stroke-width="0.4" textLength="15.3" lengthAdjust="spacingAndGlyphs">52</text>
<text x="1144.6" y="127.0" font-size="13" fill="#1c1c1c" stroke="#1c1c1c" stroke-width="0.4" textLength="15.3" lengthAdjust="spacingAndGlyphs">54</text>
<text x="1144.6" y="103.8" font-size="13" fill="#1c1c1c" stroke="#1c1c1c" stroke-width="0.4" textLength="15.3" lengthAdjust="spacingAndGlyphs">56</text>
<text x="1144.6" y="8.5" font-size="13" fill="#1c1c1c" stroke="#1c1c1c" stroke-width="0.4" textLength="15.3" lengthAdjust="spacingAndGlyphs">30</text>
<text x="1144.6" y="38.2" font-size="13" fill="#1c1c1c" stroke="#1c1c1c" stroke-width="0.4" textLength="15.3" lengthAdjust="spacingAndGlyphs">10</text>
<path d="M1137.6 326.9L1143.4 319.9H1182.3V333.9H1143.4z" fill="#fff" stroke="#dc3c5a" stroke-width="1.5" stroke-linejoin="miter"/><text x="1143.7" y="331.6" font-size="13" fill="#1c1c1c" stroke="#1c1c1c" stroke-width="0.3" textLength="34.6" lengthAdjust="spacingAndGlyphs">39.23</text>
<path d="M1137.6 170.8L1143.4 163.8H1182.3V177.8H1143.4z" fill="#fff" stroke="#3a3ab4" stroke-width="1.5" stroke-linejoin="miter"/><text x="1143.7" y="175.5" font-size="13" fill="#1c1c1c" stroke="#1c1c1c" stroke-width="0.3" textLength="34.6" lengthAdjust="spacingAndGlyphs">50.07</text>
<path d="M1137.6 72.9L1143.4 65.4H1182.3V80.4H1143.4z" fill="#fff" stroke="#3c3c3c" stroke-width="1.9" stroke-linejoin="miter"/><text x="1143.6" y="77.7" font-size="15.4" font-weight="bold" font-family="'Liberation Serif',serif" fill="#000" stroke="#000" stroke-width="0.3" textLength="35.8" lengthAdjust="spacingAndGlyphs">58.46</text>
<text x="114.3" y="556.2" font-size="12.7" fill="#1a1a1a" stroke="#1a1a1a" stroke-width="0.45" text-anchor="middle" letter-spacing="0.5">Feb</text>
<text x="206.4" y="556.2" font-size="12.7" fill="#1a1a1a" stroke="#1a1a1a" stroke-width="0.45" text-anchor="middle" letter-spacing="0.5">Mar</text>
<text x="308.3" y="556.2" font-size="12.7" fill="#1a1a1a" stroke="#1a1a1a" stroke-width="0.45" text-anchor="middle" letter-spacing="0.5">Apr</text>
<text x="410.1" y="556.2" font-size="12.7" fill="#1a1a1a" stroke="#1a1a1a" stroke-width="0.45" text-anchor="middle" letter-spacing="0.5">May</text>
<text x="512.0" y="556.2" font-size="12.7" fill="#1a1a1a" stroke="#1a1a1a" stroke-width="0.45" text-anchor="middle" letter-spacing="0.5">Jun</text>
<text x="609.0" y="556.2" font-size="12.7" fill="#1a1a1a" stroke="#1a1a1a" stroke-width="0.45" text-anchor="middle" letter-spacing="0.5">Jul</text>
<text x="715.7" y="556.2" font-size="12.7" fill="#1a1a1a" stroke="#1a1a1a" stroke-width="0.45" text-anchor="middle" letter-spacing="0.5">Aug</text>
<text x="817.6" y="556.2" font-size="12.7" fill="#1a1a1a" stroke="#1a1a1a" stroke-width="0.45" text-anchor="middle" letter-spacing="0.5">Sep</text>
<text x="919.4" y="556.2" font-size="12.7" fill="#1a1a1a" stroke="#1a1a1a" stroke-width="0.45" text-anchor="middle" letter-spacing="0.5">Oct</text>
<text x="1031.0" y="556.2" font-size="12.7" fill="#1a1a1a" stroke="#1a1a1a" stroke-width="0.45" text-anchor="middle" letter-spacing="0.5">Nov</text>
<text x="1123.2" y="556.2" font-size="12.7" fill="#1a1a1a" stroke="#1a1a1a" stroke-width="0.45" text-anchor="middle" letter-spacing="0.5">Dec</text>
<text x="-0.3" y="556.2" font-size="14.2" font-weight="bold" fill="#111">2025</text>
<text x="1150" y="569" font-size="13" fill="#222" stroke="#222" stroke-width="0.3" textLength="16.4" lengthAdjust="spacingAndGlyphs">90</text>
<g transform="translate(30.2,73) scale(1.1,1)"><text x="0" y="0" font-size="12.8" fill="#1c1c1c" stroke="#1c1c1c" stroke-width="0.25" textLength="148.2" lengthAdjust="spacing">$SILVER (Daily) 58.46</text></g>
<path d="M15.3 62.5V73M19.2 65V73.5M23.4 62.5V73.5" stroke="#000" stroke-width="1.3" fill="none"/><rect x="13.6" y="64" width="3.4" height="5.2" fill="#fff" stroke="#000" stroke-width="1.3"/><rect x="17.6" y="66.2" width="3.2" height="6" fill="#000"/><rect x="21.7" y="64" width="3.4" height="8" fill="#fff" stroke="#000" stroke-width="1.3"/>
<path d="M13.4 81.9H25.4" stroke="#2828a8" stroke-width="2"/>
<text x="27" y="87.6" font-size="13" fill="#2828a8" stroke="#2828a8" stroke-width="0.2" textLength="79.3" lengthAdjust="spacingAndGlyphs">MA(50) 50.07</text>
<path d="M13.4 96.7H25.4" stroke="#dc2846" stroke-width="2"/>
<text x="27" y="102.1" font-size="13" fill="#dc2846" stroke="#dc2846" stroke-width="0.2" textLength="86.3" lengthAdjust="spacingAndGlyphs">MA(200) 39.23</text>
<path d="M13.2 115.6V109.6h2.5V115.6M16.5 115.6V105.6h2.5V115.6M19.8 115.6V107.4h2.5V115.6M23 115.6V108.6h2.4V115.6" fill="#4a4a4a" stroke="none"/>
<text x="27" y="116" font-size="13" fill="#505050" stroke="#505050" stroke-width="0.2" textLength="84" lengthAdjust="spacingAndGlyphs">Volume undef</text>
</svg></body></html>
